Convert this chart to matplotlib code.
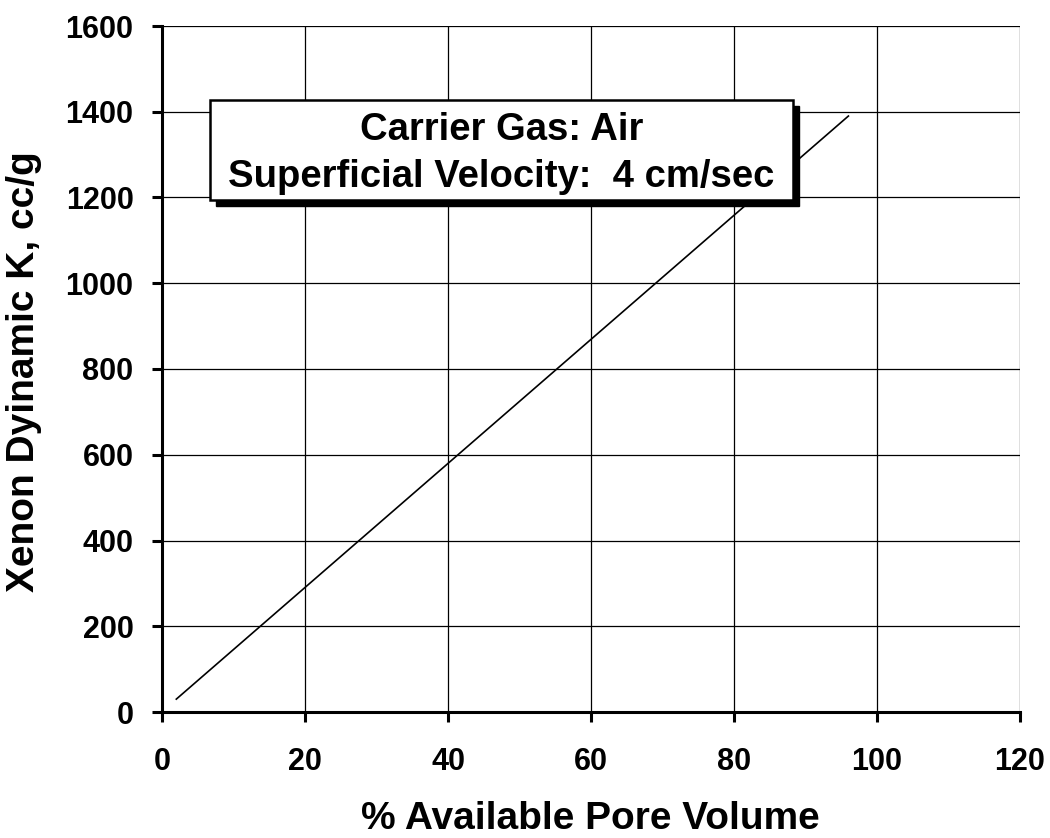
import matplotlib
matplotlib.use("Agg")
import matplotlib.pyplot as plt
from matplotlib.patches import Rectangle

plt.rcParams['font.family'] = ['Liberation Sans', 'DejaVu Sans']
plt.rcParams['font.weight'] = 'bold'

pore_volume = [2, 96]
dynamic_k = [30, 1390]
x_ticks = [0, 20, 40, 60, 80, 100, 120]
y_ticks = [0, 200, 400, 600, 800, 1000, 1200, 1400, 1600]
box_lines = ["Carrier Gas: Air", "Superficial Velocity:  4 cm/sec"]

fig = plt.figure(figsize=(10.5, 8.38), dpi=100)
ax = fig.add_axes([162/1050, 1 - 712/838, (1020-162)/1050, (712-26)/838])

ax.plot(pore_volume, dynamic_k, color='black', linewidth=1.2, zorder=3)

ax.set_xlim(0, 120)
ax.set_ylim(0, 1600)
ax.set_xticks(x_ticks)
ax.set_yticks(y_ticks)
ax.grid(True, color='black', linewidth=0.9)
ax.set_axisbelow(True)
for s in ['top', 'right']:
    ax.spines[s].set_visible(False)
for s in ['left', 'bottom']:
    ax.spines[s].set_linewidth(2.2)
ax.tick_params(axis='both', direction='out', length=7.5, width=2.2,
               labelsize=22)
ax.tick_params(axis='y', pad=13)
ax.tick_params(axis='x', pad=18)
for lab in ax.get_xticklabels() + ax.get_yticklabels():
    lab.set_fontweight('bold')

fig.text(590/1050, 1 - 819/838, "% Available Pore Volume", ha='center',
         va='center', fontsize=28, fontweight='bold')
fig.text(24/1050, 1 - 372/838, "Xenon Dyinamic K, cc/g", ha='center',
         va='center', rotation=90, fontsize=28, fontweight='bold')

# text box with shadow (in data coordinates)
bx0, bx1 = 6.7, 88.3
by0, by1 = 1195, 1427
dx, dy = 0.85, 14
ax.add_patch(Rectangle((bx0 + dx, by0 - dy), bx1 - bx0, by1 - by0,
                       facecolor='black', edgecolor='black', zorder=4))
ax.add_patch(Rectangle((bx0, by0), bx1 - bx0, by1 - by0,
                       facecolor='white', edgecolor='black', linewidth=1.8,
                       zorder=5))
cx = (bx0 + bx1) / 2
ax.text(cx, 1335, box_lines[0], ha='center', va='baseline', fontsize=27.5,
        fontweight='bold', zorder=6)
ax.text(cx, 1225, box_lines[1], ha='center', va='baseline', fontsize=27.5,
        fontweight='bold', zorder=6)

fig.savefig("out.png", dpi=100)
